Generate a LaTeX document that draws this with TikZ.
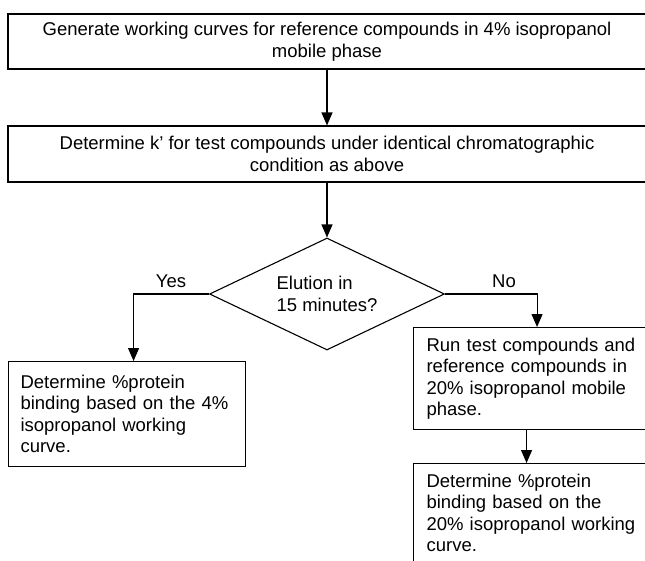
\documentclass[tikz,border=0pt]{standalone}
\usepackage{fontspec}
\setmainfont{Liberation Sans}
\usetikzlibrary{shapes.geometric,arrows.meta}
\begin{document}
\begin{tikzpicture}[x=1pt,y=-1pt,
  every node/.style={font=\fontsize{18.5}{21.5}\selectfont},
  boxnode/.style={draw,line width=1.1pt,rectangle,inner sep=0pt},
  flowarrow/.style={line width=1.1pt,-{Triangle[length=13pt,width=11pt]}}]
\useasboundingbox (0,0) rectangle (645,560);
\fill[white] (0,0) rectangle (645,560);
\node[boxnode,minimum width=638pt,minimum height=55pt,align=center] (box1) at (327,41.5)
  {Generate working curves for reference compounds in 4\% isopropanol\\mobile phase};
\node[boxnode,minimum width=638pt,minimum height=56pt,align=center] (box2) at (327,154)
  {Determine k’ for test compounds under identical chromatographic\\condition as above};
\node[draw,line width=1.1pt,diamond,aspect=2,inner sep=0pt,minimum width=235pt,minimum height=112pt,align=left] (dia) at (327,294)
  {Elution in\\15 minutes?};
\node (yes) at (171,281) {Yes};
\node (no) at (504,281) {No};
\node[boxnode,anchor=north west,minimum width=237pt,minimum height=105pt,text width=213pt,inner xsep=12pt,align=left] (lbox) at (8,361)
  {Determine \%protein\\binding based on the 4\%\\isopropanol working\\curve.};
\node[boxnode,anchor=north west,minimum width=247pt,minimum height=102pt,text width=221pt,inner xsep=13pt,align=left] (rbox1) at (413,327)
  {Run test compounds and\\reference compounds in\\20\% isopropanol mobile\\phase.};
\node[boxnode,anchor=north west,minimum width=247pt,minimum height=99pt,text width=221pt,inner xsep=13pt,align=left] (rbox2) at (413,463)
  {Determine \%protein\\binding based on the\\20\% isopropanol working\\curve.};
\draw[flowarrow] (box1.south) -- (box2.north);
\draw[flowarrow] (box2.south) -- (dia.north);
\draw[flowarrow] (dia.west) -| ([xshift=6.5pt]lbox.north);
\draw[flowarrow] (dia.east) -| (rbox1.north);
\draw[flowarrow] ([xshift=-10.5pt]rbox1.south) -- ([xshift=-10.5pt]rbox2.north);
\end{tikzpicture}
\end{document}
